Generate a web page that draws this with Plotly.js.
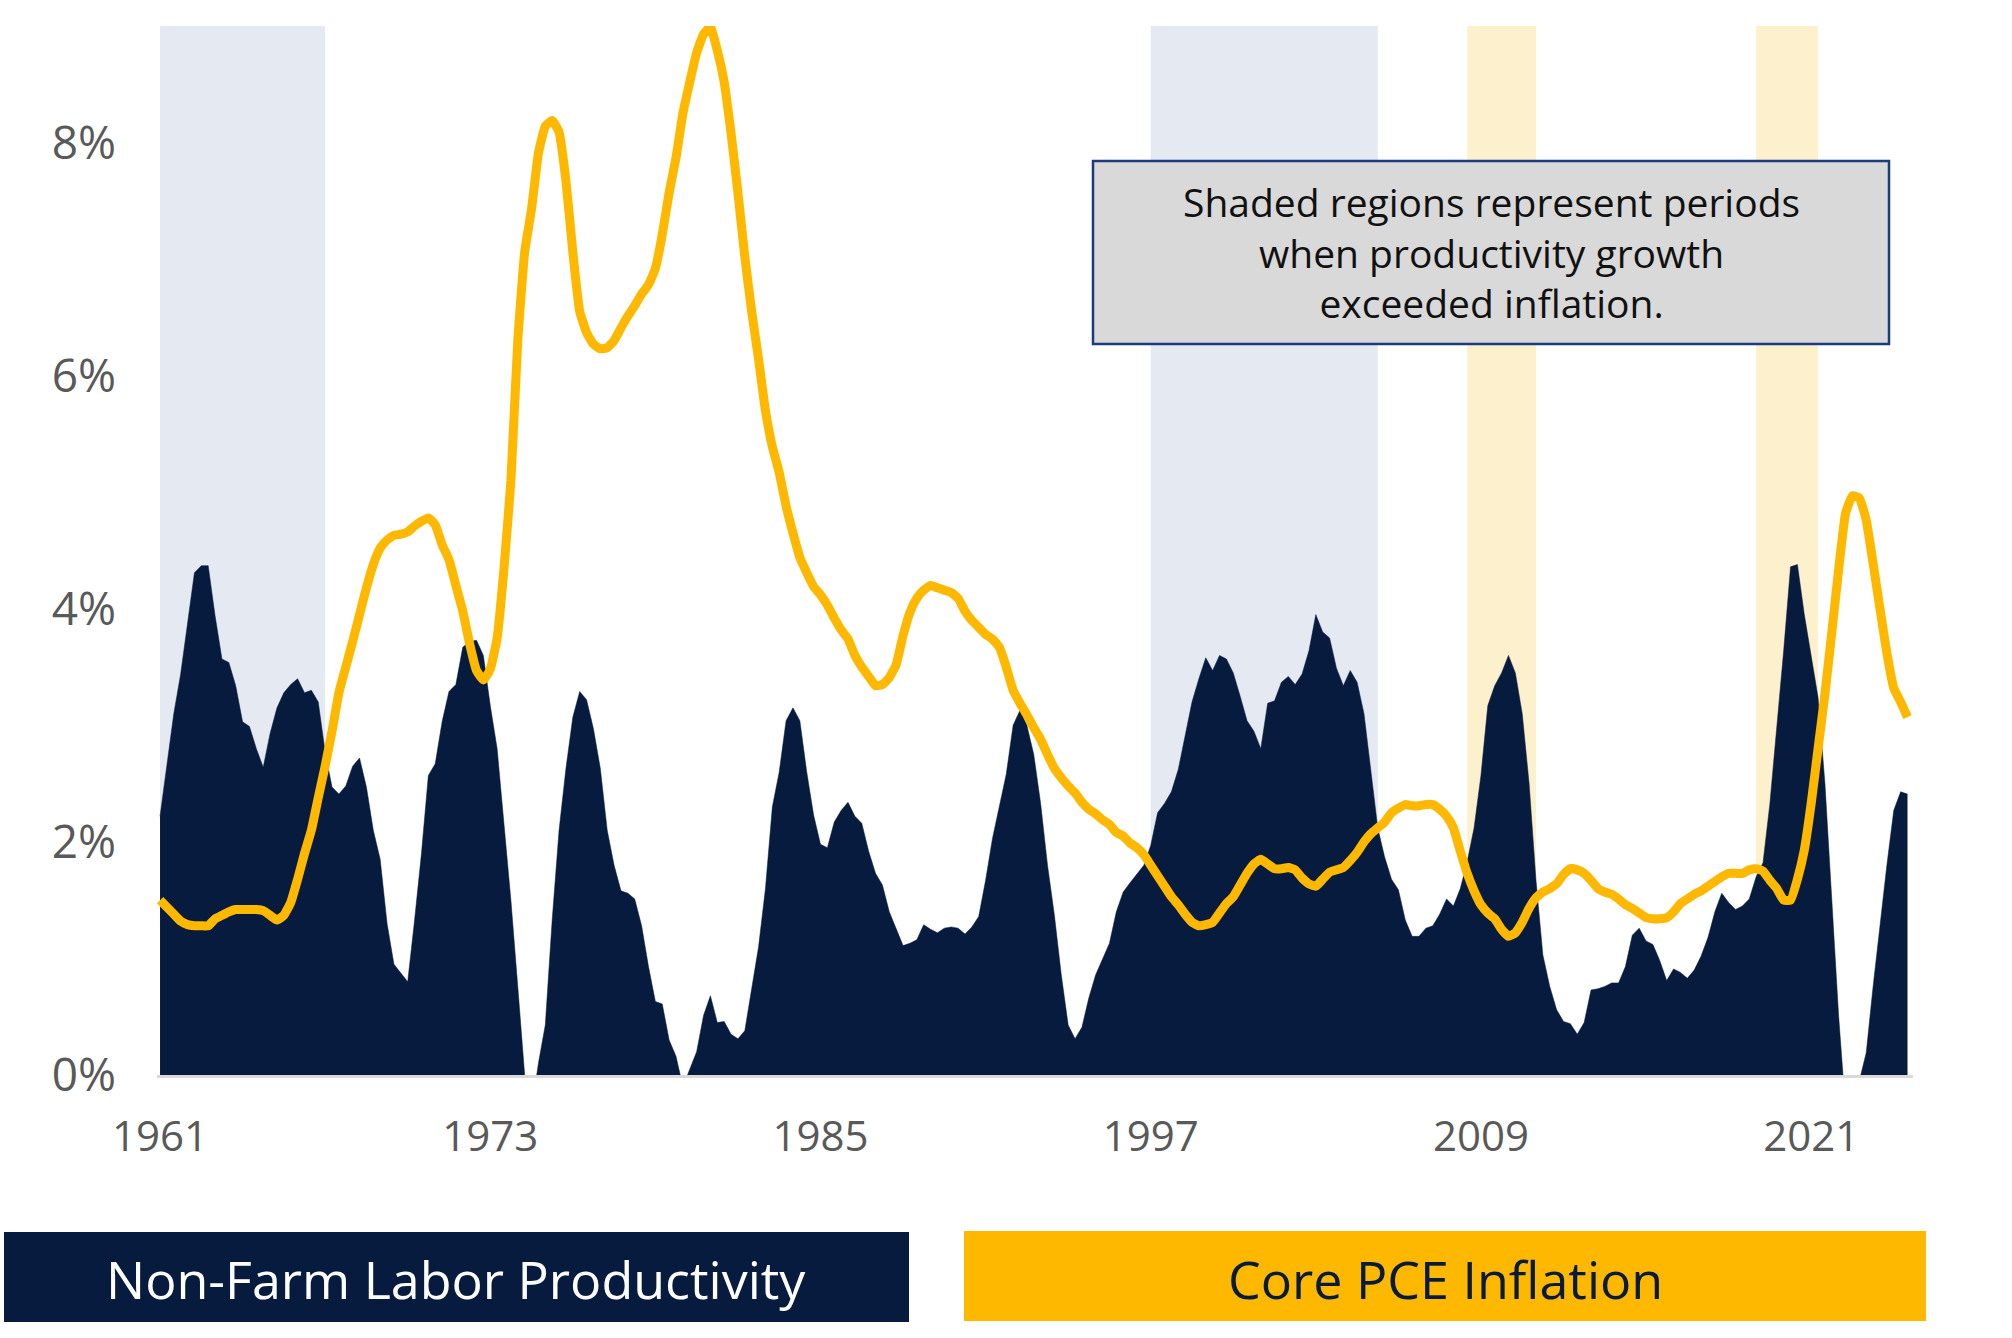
<!DOCTYPE html>
<html>
<head>
<meta charset="utf-8">
<script src="https://cdn.plot.ly/plotly-3.0.1.min.js"></script>
<style>
  html, body { margin: 0; padding: 0; background: #ffffff; }
  #chart { width: 2012px; height: 1338px; }
</style>
</head>
<body>
<div id="chart"></div>
<script>
// ---------------- DATA ----------------
// Quarterly observations, first quarter = 1961 Q1
const startYear = 1961;

// Non-Farm Labor Productivity (%)
const productivity = [
  2.22, 2.68, 3.10, 3.44, 3.87, 4.31, 4.37, 4.37, 3.94, 3.57, 3.54, 3.34,
  3.03, 2.99, 2.80, 2.64, 2.93, 3.15, 3.28, 3.35, 3.40, 3.28, 3.30, 3.20,
  2.77, 2.47, 2.41, 2.48, 2.65, 2.72, 2.47, 2.10, 1.85, 1.30, 0.95, 0.87,
  0.80, 1.33, 1.90, 2.57, 2.67, 3.03, 3.29, 3.35, 3.67, 3.72, 3.73, 3.60,
  3.17, 2.80, 2.17, 1.50, 0.76, 0.00, -0.30, 0.10, 0.43, 1.33, 2.10, 2.63,
  3.07, 3.29, 3.22, 2.97, 2.63, 2.10, 1.80, 1.58, 1.56, 1.51, 1.28, 0.93,
  0.63, 0.61, 0.30, 0.16, -0.10, 0.05, 0.20, 0.51, 0.68, 0.45, 0.46, 0.35,
  0.31, 0.38, 0.76, 1.10, 1.60, 2.30, 2.60, 3.04, 3.15, 3.04, 2.60, 2.23,
  1.98, 1.95, 2.17, 2.27, 2.34, 2.22, 2.16, 1.92, 1.73, 1.63, 1.40, 1.26,
  1.11, 1.13, 1.16, 1.29, 1.25, 1.22, 1.26, 1.27, 1.26, 1.21, 1.27, 1.36,
  1.67, 2.03, 2.30, 2.58, 3.00, 3.13, 3.00, 2.75, 2.33, 1.80, 1.37, 0.86,
  0.43, 0.31, 0.41, 0.66, 0.86, 1.00, 1.13, 1.40, 1.57, 1.65, 1.73, 1.80,
  1.97, 2.25, 2.33, 2.43, 2.62, 2.92, 3.20, 3.40, 3.58, 3.47, 3.60, 3.57,
  3.45, 3.25, 3.04, 2.95, 2.80, 3.19, 3.21, 3.37, 3.42, 3.35, 3.44, 3.64,
  3.95, 3.80, 3.75, 3.49, 3.34, 3.47, 3.37, 3.10, 2.60, 2.12, 1.87, 1.68,
  1.59, 1.33, 1.19, 1.19, 1.26, 1.28, 1.38, 1.51, 1.45, 1.60, 1.83, 2.12,
  2.57, 3.17, 3.34, 3.45, 3.60, 3.45, 3.10, 2.50, 1.67, 1.03, 0.76, 0.56,
  0.46, 0.44, 0.35, 0.45, 0.73, 0.74, 0.76, 0.79, 0.79, 0.93, 1.20, 1.26,
  1.15, 1.12, 0.98, 0.81, 0.91, 0.88, 0.83, 0.90, 1.02, 1.18, 1.40, 1.56,
  1.48, 1.42, 1.45, 1.51, 1.70, 1.82, 2.33, 2.97, 3.64, 4.36, 4.38, 3.95,
  3.60, 3.24, 2.50, 1.46, 0.50, -0.30, -0.50, -0.05, 0.19, 0.76, 1.30, 1.80,
  2.27, 2.43, 2.41
];

// Core PCE Inflation (%)
const corePCE = [
  1.50, 1.44, 1.38, 1.32, 1.29, 1.28, 1.28, 1.28, 1.34, 1.37, 1.40, 1.42,
  1.42, 1.42, 1.42, 1.41, 1.37, 1.33, 1.37, 1.48, 1.68, 1.90, 2.10, 2.38,
  2.65, 2.95, 3.28, 3.50, 3.72, 3.95, 4.18, 4.38, 4.52, 4.59, 4.63, 4.64,
  4.66, 4.71, 4.75, 4.78, 4.72, 4.55, 4.42, 4.20, 3.98, 3.70, 3.47, 3.39,
  3.48, 3.75, 4.35, 5.10, 6.30, 7.06, 7.43, 7.91, 8.14, 8.19, 8.09, 7.67,
  7.06, 6.55, 6.37, 6.27, 6.23, 6.24, 6.30, 6.41, 6.51, 6.60, 6.70, 6.78,
  6.92, 7.21, 7.57, 7.87, 8.25, 8.52, 8.77, 8.93, 8.99, 8.79, 8.52, 8.08,
  7.57, 7.02, 6.55, 6.14, 5.70, 5.39, 5.17, 4.88, 4.65, 4.44, 4.31, 4.19,
  4.12, 4.03, 3.92, 3.82, 3.74, 3.60, 3.50, 3.42, 3.34, 3.35, 3.41, 3.52,
  3.77, 3.97, 4.09, 4.16, 4.20, 4.18, 4.16, 4.14, 4.09, 3.98, 3.90, 3.84,
  3.78, 3.74, 3.67, 3.50, 3.30, 3.19, 3.09, 2.98, 2.88, 2.75, 2.63, 2.55,
  2.48, 2.42, 2.34, 2.28, 2.24, 2.19, 2.15, 2.08, 2.05, 1.99, 1.95, 1.89,
  1.80, 1.71, 1.62, 1.53, 1.46, 1.38, 1.31, 1.28, 1.29, 1.31, 1.39, 1.47,
  1.53, 1.63, 1.73, 1.81, 1.85, 1.81, 1.77, 1.77, 1.78, 1.76, 1.69, 1.64,
  1.62, 1.68, 1.74, 1.76, 1.78, 1.84, 1.91, 2.00, 2.07, 2.12, 2.17, 2.25,
  2.29, 2.32, 2.31, 2.31, 2.32, 2.32, 2.28, 2.22, 2.12, 1.92, 1.73, 1.58,
  1.46, 1.39, 1.34, 1.25, 1.19, 1.22, 1.31, 1.43, 1.52, 1.57, 1.60, 1.64,
  1.72, 1.77, 1.76, 1.73, 1.67, 1.60, 1.57, 1.55, 1.51, 1.46, 1.43, 1.39,
  1.35, 1.34, 1.34, 1.35, 1.40, 1.47, 1.51, 1.55, 1.58, 1.62, 1.66, 1.70,
  1.73, 1.73, 1.73, 1.76, 1.77, 1.75, 1.67, 1.60, 1.50, 1.50, 1.68, 1.93,
  2.33, 2.80, 3.27, 3.80, 4.34, 4.82, 4.97, 4.95, 4.76, 4.39, 4.00, 3.62,
  3.32, 3.20, 3.07
];

// Shaded periods (productivity growth exceeded inflation)
const shadeStart = [1961, 1997, 2008.5, 2019];
const shadeEnd   = [1967, 2005.25, 2011, 2021.25];
const shadeKind  = ["blue", "blue", "gold", "gold"];

// Axis ticks
const xTickVals = [1961, 1973, 1985, 1997, 2009, 2021];
const xTickText = ["1961", "1973", "1985", "1997", "2009", "2021"];
const yTickVals = [0, 2, 4, 6, 8];
const yTickText = ["0%", "2%", "4%", "6%", "8%"];

// Text
const seriesNames = ["Non-Farm Labor Productivity", "Core PCE Inflation"];
const noteLines = ["Shaded regions represent periods", "when productivity growth", "exceeded inflation."];

// ---------------- STYLE / LAYOUT ----------------
const NAVY = "#061B3E";
const GOLD = "#FFB800";
const BLUE_SHADE = "#E5EAF2";
const GOLD_SHADE = "#FDF0CC";
const FONT = "'Open Sans', 'Noto Sans', sans-serif";

const W = 2012, H = 1338;
const PL = 157, PT = 26, PW = 1756, PH = 1049;
const fx = px => (px - PL) / PW;
const fy = py => (PT + PH - py) / PH;

const quarters = productivity.map((_, i) => startYear + i * 0.25);

const traces = [
  {
    x: quarters, y: productivity, type: "scatter", mode: "lines",
    name: seriesNames[0], fill: "tozeroy", fillcolor: NAVY,
    line: { color: NAVY, width: 0.5 }, hoverinfo: "skip"
  },
  {
    x: quarters, y: corePCE, type: "scatter", mode: "lines",
    name: seriesNames[1], line: { color: GOLD, width: 9, shape: "spline", smoothing: 0.4 },
    hoverinfo: "skip"
  }
];

const shapes = [];
shadeStart.forEach((s, k) => {
  shapes.push({
    type: "rect", xref: "x", yref: "paper", x0: s, x1: shadeEnd[k], y0: 0, y1: 1,
    fillcolor: shadeKind[k] === "blue" ? BLUE_SHADE : GOLD_SHADE,
    line: { width: 0 }, layer: "below"
  });
});
// note box
shapes.push({
  type: "rect", xref: "paper", yref: "paper",
  x0: fx(1093), x1: fx(1889), y0: fy(344), y1: fy(161),
  fillcolor: "#D9D9D9", line: { color: "#1B3A80", width: 2.5 }, layer: "above"
});
// legend boxes
shapes.push({
  type: "rect", xref: "paper", yref: "paper",
  x0: fx(4), x1: fx(909), y0: fy(1322), y1: fy(1232),
  fillcolor: NAVY, line: { width: 0 }
});
shapes.push({
  type: "rect", xref: "paper", yref: "paper",
  x0: fx(964), x1: fx(1926), y0: fy(1321), y1: fy(1231),
  fillcolor: GOLD, line: { width: 0 }
});

const annotations = [];
annotations.push({
  xref: "paper", yref: "paper", x: fx(1491), y: fy(252),
  xanchor: "center", yanchor: "middle", align: "center", showarrow: false,
  text: noteLines.join("<br>"),
  font: { family: FONT, size: 39, color: "#111111" }
});
annotations.push({
  xref: "paper", yref: "paper", x: fx(456), y: fy(1278),
  xanchor: "center", yanchor: "middle", showarrow: false, text: seriesNames[0],
  font: { family: FONT, size: 52, color: "#FFFFFF" }
});
annotations.push({
  xref: "paper", yref: "paper", x: fx(1445), y: fy(1278),
  xanchor: "center", yanchor: "middle", showarrow: false, text: seriesNames[1],
  font: { family: FONT, size: 52, color: NAVY }
});

const layout = {
  width: W, height: H,
  margin: { l: PL, r: W - PL - PW, t: PT, b: H - PT - PH, pad: 0 },
  paper_bgcolor: "#FFFFFF", plot_bgcolor: "#FFFFFF",
  showlegend: false,
  font: { family: FONT },
  xaxis: {
    range: [1960.89, 2024.7], tickmode: "array", tickvals: xTickVals, ticktext: xTickText,
    showgrid: false, zeroline: false, showline: true, linecolor: "#D9D9D9", linewidth: 3,
    ticks: "", ticklabelstandoff: 23,
    tickfont: { family: FONT, size: 42, color: "#595959" }
  },
  yaxis: {
    range: [0, 9.0], tickmode: "array", tickvals: yTickVals, ticktext: yTickText,
    showgrid: false, zeroline: false, showline: false, ticks: "", ticklabelstandoff: 40,
    tickfont: { family: FONT, size: 46, color: "#595959" }
  },
  shapes: shapes,
  annotations: annotations
};

Plotly.newPlot("chart", traces, layout, { displayModeBar: false, staticPlot: true });
</script>
</body>
</html>
